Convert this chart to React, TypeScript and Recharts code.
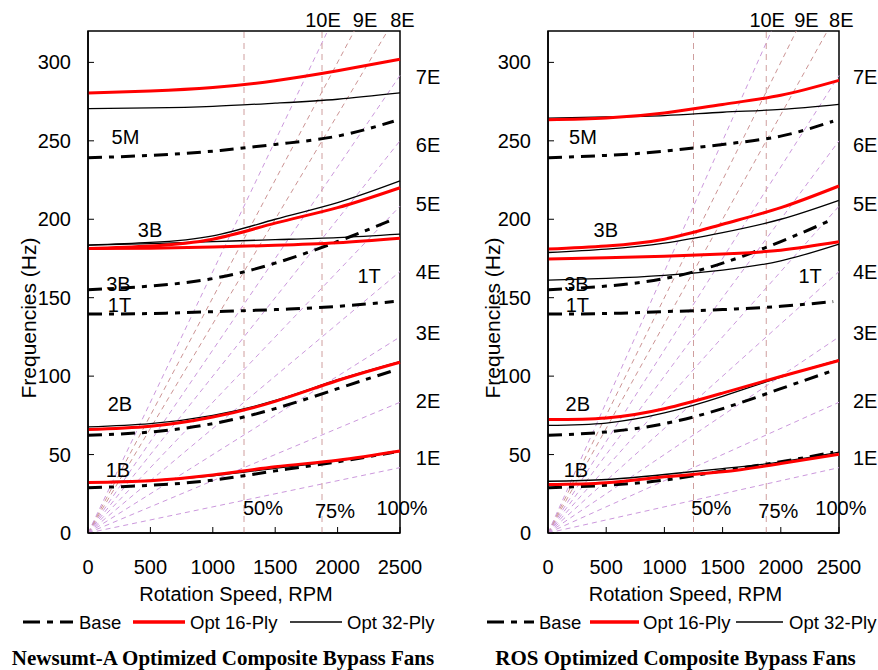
import React from "react";
import {
  Label,
  Line,
  LineChart,
  ReferenceArea,
  ReferenceDot,
  ReferenceLine,
  XAxis,
  YAxis,
} from "recharts";

// speeds (RPM) at which the mode curves were read
const speeds = [0, 500, 1000, 1500, 2000, 2500];
// the dash-dot baseline curves stop a little short of 2500
const baseSpeeds = [0, 500, 1000, 1500, 2000, 2450];
const allSpeeds = [0, 500, 1000, 1500, 2000, 2450, 2500];

const modes = ["5M", "3B", "1T", "2B", "1B"];

const rpmTicks = [0, 500, 1000, 1500, 2000, 2500];
const hzTicks = [0, 50, 100, 150, 200, 250, 300];

// Base design (same curves in both panels), Hz
const base5M = [239.2, 240.7, 243.4, 247.7, 253.0, 262.5];
const base3B = [155.1, 157.4, 162.2, 172.0, 185.8, 200.0];
const base1T = [139.6, 139.9, 141.1, 142.4, 144.5, 147.5];
const base2B = [62.3, 64.4, 69.7, 79.3, 92.0, 103.6];
const base1B = [28.8, 30.4, 33.7, 39.6, 45.4, 51.5];

// Newsumt-A optimum
const newsumt16_5M = [280.5, 281.8, 284.0, 288.3, 294.6, 302.0];
const newsumt16_3B = [181.3, 183.0, 187.3, 197.5, 207.4, 220.1];
const newsumt16_1T = [181.3, 181.5, 182.3, 183.4, 185.0, 187.9];
const newsumt16_2B = [65.9, 68.0, 73.9, 83.9, 97.2, 108.9];
const newsumt16_1B = [32.2, 33.3, 36.9, 42.2, 46.4, 52.3];

const newsumt32_5M = [270.5, 271.0, 272.0, 274.0, 276.5, 280.5];
const newsumt32_3B = [183.5, 185.2, 189.4, 200.0, 210.6, 224.4];
const newsumt32_1T = [183.5, 184.5, 185.7, 187.0, 188.3, 190.5];
const newsumt32_2B = [67.6, 69.7, 75.0, 84.5, 97.7, 109.3];
const newsumt32_1B = [32.6, 33.5, 36.5, 41.2, 46.0, 52.0];

// ROS optimum
const ros16_5M = [263.5, 264.6, 267.8, 273.2, 279.0, 288.5];
const ros16_3B = [181.0, 183.0, 187.3, 196.8, 207.4, 221.2];
const ros16_1T = [174.6, 175.4, 176.4, 177.8, 180.3, 185.6];
const ros16_2B = [72.3, 73.3, 79.2, 89.2, 99.8, 110.0];
const ros16_1B = [30.9, 32.0, 35.8, 39.0, 44.3, 50.2];

const ros32_5M = [264.4, 265.2, 266.1, 268.2, 270.0, 273.2];
const ros32_3B = [178.8, 181.0, 184.8, 191.5, 200.0, 212.1];
const ros32_1T = [161.2, 162.3, 164.2, 167.6, 173.5, 184.2];
const ros32_2B = [68.6, 70.1, 76.5, 87.1, 99.4, 110.4];
const ros32_1B = [33.0, 34.1, 37.3, 41.1, 45.3, 51.5];

const baseCurves = [base5M, base3B, base1T, base2B, base1B];

// engine orders drawn as rays from the origin
const engineOrders = [1, 2, 3, 4, 5, 6, 7, 8, 9, 10];

// annotation anchors, in data units (RPM, Hz)
const modeLabels = [
  { text: "5M", rpm: 300, hz: 252.3 },
  { text: "3B", rpm: 497, hz: 192.9 },
  { text: "3B", rpm: 244, hz: 158.9 },
  { text: "1T", rpm: 252, hz: 145.2 },
  { text: "1T", rpm: 2252, hz: 164 },
  { text: "2B", rpm: 256, hz: 82.6 },
  { text: "1B", rpm: 240, hz: 40.4 },
];
const speedLabels = [
  { text: "50%", rpm: 1402, hz: 16.2 },
  { text: "75%", rpm: 1979, hz: 14.3 },
  { text: "100%", rpm: 2516, hz: 16.2 },
];
const orderLabels = [
  { text: "10E", rpm: 1883, hz: 327 },
  { text: "9E", rpm: 2220, hz: 327 },
  { text: "8E", rpm: 2520, hz: 327 },
  { text: "7E", rpm: 2725, hz: 290.8 },
  { text: "6E", rpm: 2725, hz: 247.2 },
  { text: "5E", rpm: 2725, hz: 209.7 },
  { text: "4E", rpm: 2725, hz: 166.6 },
  { text: "3E", rpm: 2725, hz: 127.4 },
  { text: "2E", rpm: 2725, hz: 83.9 },
  { text: "1E", rpm: 2725, hz: 47.7 },
];

const PLOT_TOP = 31;
const PLOT_BOTTOM = 533;
const CHART_H = 640;
const X_AXIS_H = 75;
const FONT = '"Liberation Sans", Arial, sans-serif';

const buildRows = (opt16: number[][], opt32: number[][]) =>
  allSpeeds.map((rpm) => {
    const row: Record<string, number | null> = { rpm };
    const bi = baseSpeeds.indexOf(rpm);
    const oi = speeds.indexOf(rpm);
    modes.forEach((m, i) => {
      row[`base${m}`] = bi >= 0 ? baseCurves[i][bi] : null;
      row[`o16${m}`] = oi >= 0 ? opt16[i][oi] : null;
      row[`o32${m}`] = oi >= 0 ? opt32[i][oi] : null;
    });
    return row;
  });

const orderRay = (n: number) => {
  const end = Math.min(2500, (320 * 60) / n);
  return [
    { rpm: 0, hz: 0 },
    { rpm: end, hz: (n * end) / 60 },
  ];
};

const orderColor = (n: number) => (n === 8 || n === 9 ? "#cc9494" : "#cc99dd");

const textAt = (t: { text: string; rpm: number; hz: number }, key: string) => (
  <ReferenceDot
    key={key}
    x={t.rpm}
    y={t.hz}
    r={0}
    fill="none"
    stroke="none"
    ifOverflow="visible"
    label={{ value: t.text, position: "center", fill: "#000", fontSize: 20 }}
  />
);

type PanelProps = {
  left: number;
  width: number;
  axisW: number;
  plotW: number;
  opt16: number[][];
  opt32: number[][];
  yLabelX: number;
};

const Panel = ({ left, width, axisW, plotW, opt16, opt32, yLabelX }: PanelProps) => {
  const rows = buildRows(opt16, opt32);
  return (
    <div style={{ position: "absolute", left, top: 0 }}>
      <LineChart
        width={width}
        height={CHART_H}
        data={rows}
        margin={{ top: PLOT_TOP, right: width - axisW - plotW, left: 0, bottom: CHART_H - PLOT_BOTTOM - X_AXIS_H }}
      >
        <XAxis
          dataKey="rpm"
          type="number"
          domain={[0, 2500]}
          ticks={rpmTicks}
          height={X_AXIS_H}
          tickSize={-6}
          tickMargin={33}
          tickLine={{ stroke: "#000" }}
          axisLine={{ stroke: "#000", strokeWidth: 1.5 }}
          tick={{ fill: "#000", fontSize: 20 }}
        >
          <Label
            content={(p: any) => (
              <text
                x={p.viewBox.x + p.viewBox.width / 2 - 8}
                y={601}
                textAnchor="middle"
                fontSize={20}
                fill="#000"
              >
                Rotation Speed, RPM
              </text>
            )}
          />
        </XAxis>
        <YAxis
          type="number"
          domain={[0, 320]}
          ticks={hzTicks}
          width={axisW}
          tickSize={-6}
          tickMargin={23}
          tickLine={{ stroke: "#000" }}
          axisLine={{ stroke: "#000", strokeWidth: 1.5 }}
          tick={{ fill: "#000", fontSize: 20 }}
        >
          <Label
            content={() => (
              <text
                x={yLabelX}
                y={318}
                transform={`rotate(-90 ${yLabelX} 318)`}
                textAnchor="middle"
                dominantBaseline="central"
                fontSize={21}
                fill="#000"
              >
                Frequencies (Hz)
              </text>
            )}
          />
        </YAxis>

        {engineOrders.map((n) => (
          <Line
            key={`eo${n}`}
            data={orderRay(n)}
            dataKey="hz"
            type="linear"
            stroke={orderColor(n)}
            strokeWidth={1}
            strokeDasharray="5 4"
            dot={false}
            activeDot={false}
            isAnimationActive={false}
          />
        ))}
        <ReferenceLine x={1250} stroke="#cf9e9e" strokeDasharray="6 5" />
        <ReferenceLine x={1875} stroke="#cf9e9e" strokeDasharray="6 5" />

        {modes.map((m) => (
          <Line
            key={`base${m}`}
            dataKey={`base${m}`}
            type="natural"
            connectNulls
            stroke="#000"
            strokeWidth={3}
            strokeDasharray="14 7 5 7"
            dot={false}
            activeDot={false}
            isAnimationActive={false}
          />
        ))}
        {modes.map((m) => (
          <Line
            key={`o32${m}`}
            dataKey={`o32${m}`}
            type="natural"
            connectNulls
            stroke="#000"
            strokeWidth={1.3}
            dot={false}
            activeDot={false}
            isAnimationActive={false}
          />
        ))}
        {modes.map((m) => (
          <Line
            key={`o16${m}`}
            dataKey={`o16${m}`}
            type="natural"
            connectNulls
            stroke="#ff0000"
            strokeWidth={3}
            dot={false}
            activeDot={false}
            isAnimationActive={false}
          />
        ))}

        <ReferenceArea x1={0} x2={2500} y1={0} y2={320} fill="none" stroke="#000" strokeWidth={1.5} ifOverflow="visible" />

        {modeLabels.map((t, i) => textAt(t, `m${i}`))}
        {speedLabels.map((t, i) => textAt(t, `s${i}`))}
        {orderLabels.map((t, i) => textAt(t, `e${i}`))}
      </LineChart>
    </div>
  );
};

// legend sample + text positions for each panel (px, relative to panel)
const legendLayouts = [
  { left: 0, base: [23, 73, 79], o16: [133, 185, 190], o32: [290, 342, 347], title: "Newsumt-A Optimized Composite Bypass Fans", titleX: 223 },
  { left: 440, base: [47, 94, 99], o16: [150, 199, 203], o32: [296, 343, 349], title: "ROS Optimized Composite Bypass Fans", titleX: 235.5 },
];

const Overlay = () => (
  <svg width={878} height={670} style={{ position: "absolute", left: 0, top: 0, pointerEvents: "none" }}>
    {legendLayouts.map((l) => (
      <g key={l.title} transform={`translate(${l.left},0)`} fontFamily={FONT} fontSize={18.5} fill="#000">
        <line x1={l.base[0]} x2={l.base[1]} y1={622} y2={622} stroke="#000" strokeWidth={3} strokeDasharray="17 7 6 7" />
        <text x={l.base[2]} y={622} dominantBaseline="central">Base</text>
        <line x1={l.o16[0]} x2={l.o16[1]} y1={622} y2={622} stroke="#ff0000" strokeWidth={3.5} />
        <text x={l.o16[2]} y={622} dominantBaseline="central">Opt 16-Ply</text>
        <line x1={l.o32[0]} x2={l.o32[1]} y1={622} y2={622} stroke="#000" strokeWidth={1.3} />
        <text x={l.o32[2]} y={622} dominantBaseline="central">Opt 32-Ply</text>
        <text
          x={l.titleX}
          y={665}
          textAnchor="middle"
          fontFamily='"Liberation Serif", "Times New Roman", serif'
          fontWeight="bold"
          fontSize={21}
        >
          {l.title}
        </text>
      </g>
    ))}
  </svg>
);

export default function App() {
  return (
    <div style={{ position: "absolute", left: 0, top: 0, width: 878, height: 670, background: "#fff", fontFamily: FONT }}>
      <Panel
        left={0}
        width={440}
        axisW={88}
        plotW={312}
        opt16={[newsumt16_5M, newsumt16_3B, newsumt16_1T, newsumt16_2B, newsumt16_1B]}
        opt32={[newsumt32_5M, newsumt32_3B, newsumt32_1T, newsumt32_2B, newsumt32_1B]}
        yLabelX={28}
      />
      <Panel
        left={440}
        width={438}
        axisW={108}
        plotW={291}
        opt16={[ros16_5M, ros16_3B, ros16_1T, ros16_2B, ros16_1B]}
        opt32={[ros32_5M, ros32_3B, ros32_1T, ros32_2B, ros32_1B]}
        yLabelX={52}
      />
      <Overlay />
    </div>
  );
}
